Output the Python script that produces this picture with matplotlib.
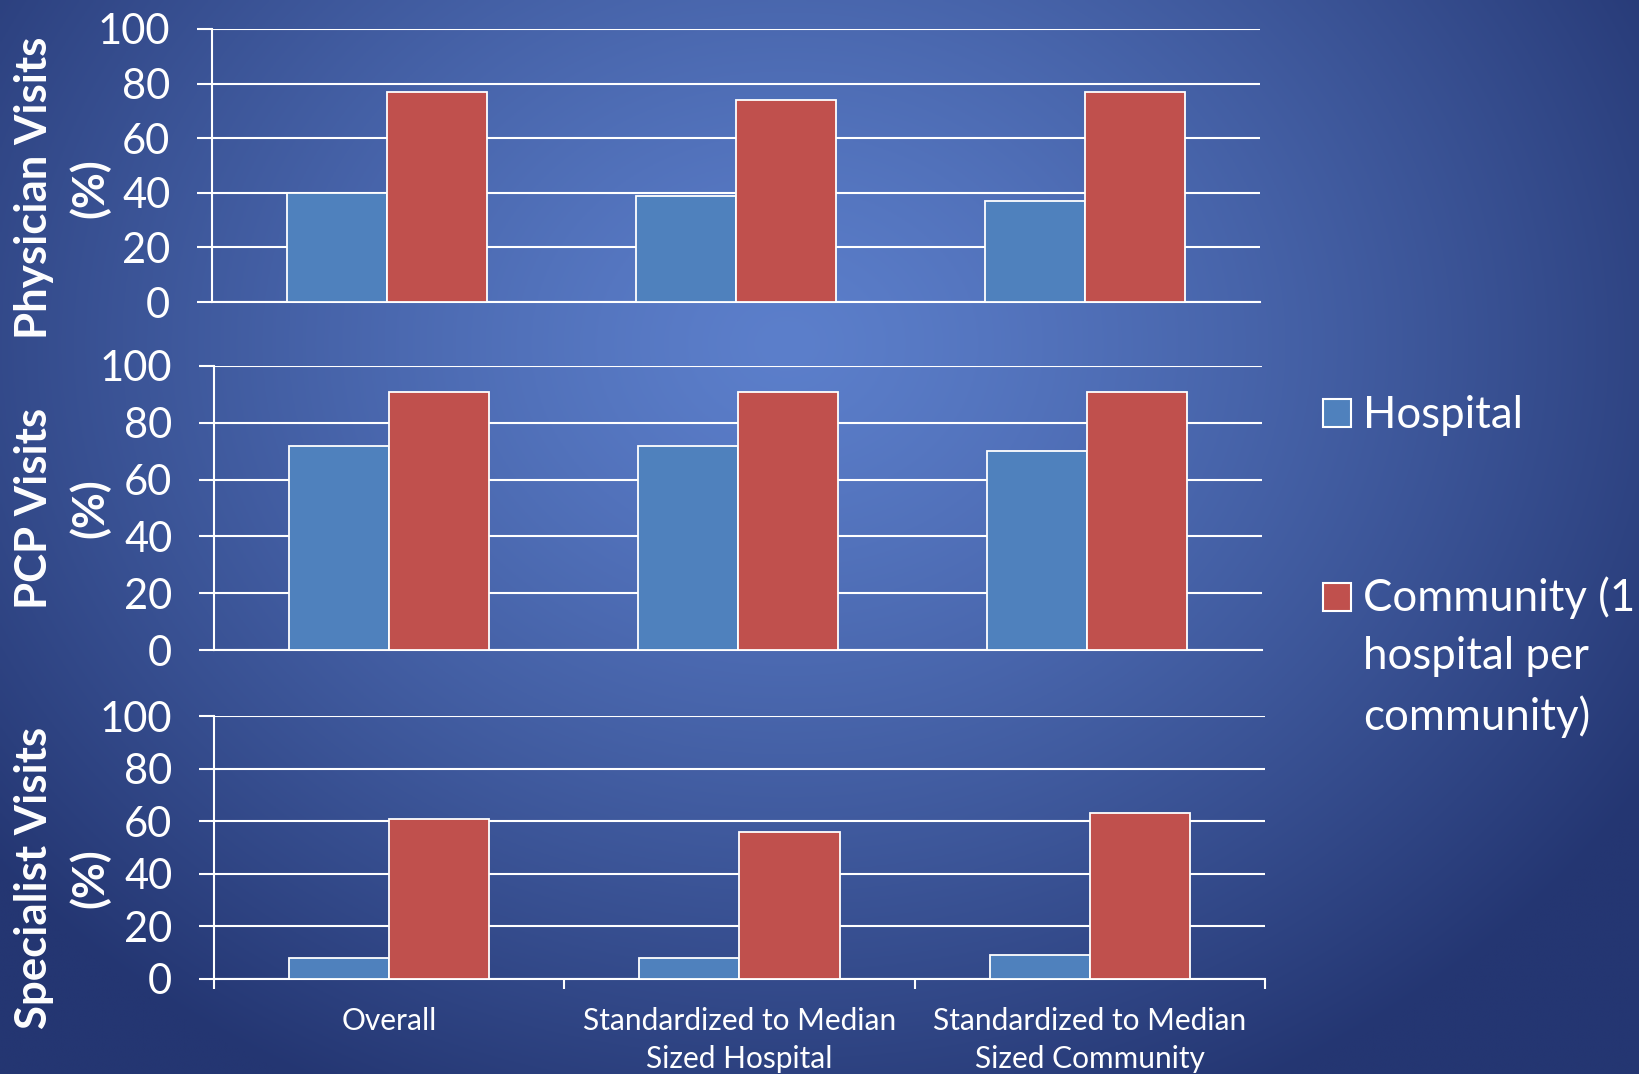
import numpy as np
import matplotlib
matplotlib.use("Agg")
import matplotlib.pyplot as plt
from matplotlib.patches import Rectangle

# ---- data ----
categories = ["Overall", "Standardized to Median\nSized Hospital",
              "Standardized to Median\nSized Community"]
series_names = ["Hospital", "Community (1\nhospital per\ncommunity)"]
panel_labels = ["Physician Visits\n(%)", "PCP Visits\n(%)", "Specialist Visits\n(%)"]

physician_hospital = [40, 39, 37]
physician_community = [77, 74, 77]
pcp_hospital = [72, 72, 70]
pcp_community = [91, 91, 91]
specialist_hospital = [8, 8, 9]
specialist_community = [61, 56, 63]

y_ticks = [0, 20, 40, 60, 80, 100]

panels = [
    (physician_hospital, physician_community),
    (pcp_hospital, pcp_community),
    (specialist_hospital, specialist_community),
]

hospital_color = "#4f81bd"
community_color = "#c0504d"

plt.rcParams["font.family"] = ["Lato", "DejaVu Sans"]

W, H = 1640, 1074
fig = plt.figure(figsize=(W / 100, H / 100), dpi=100)

# ---- radial blue background ----
bg = fig.add_axes([0, 0, 1, 1], zorder=-10)
yy, xx = np.mgrid[0:1:400j, 0:1:600j]
d = np.sqrt(((xx - 0.48) / 0.62) ** 2 + ((yy - 0.32) / 0.78) ** 2)
t = np.clip(d, 0, 1) ** 1.25
c_in = np.array([0x5c, 0x7f, 0xcb]) / 255
c_out = np.array([0x24, 0x36, 0x72]) / 255
img = c_in[None, None, :] * (1 - t[..., None]) + c_out[None, None, :] * t[..., None]
bg.imshow(img, extent=[0, 1, 0, 1], aspect="auto", origin="upper")
bg.set_axis_off()

# axes rectangles in pixel coordinates: left, top, right, bottom
rects = [(212, 29, 1260, 302), (214, 366, 1262, 650), (214, 716, 1265, 979)]
label_y = [188, 508, 878]

x = np.arange(len(categories))
bw = 0.286

for i, ((hosp, comm), (l, tp, r, b)) in enumerate(zip(panels, rects)):
    ax = fig.add_axes([l / W, 1 - b / H, (r - l) / W, (b - tp) / H])
    ax.patch.set_alpha(0)
    ax.bar(x - bw / 2, hosp, bw, color=hospital_color, edgecolor="white",
           linewidth=1.3, zorder=3)
    ax.bar(x + bw / 2, comm, bw, color=community_color, edgecolor="white",
           linewidth=1.3, zorder=3)
    ax.set_xlim(-0.5, len(categories) - 0.5)
    ax.set_ylim(0, 100)
    ax.set_yticks(y_ticks)
    ax.yaxis.grid(True, color="white", linewidth=1.5, zorder=0)
    ax.set_axisbelow(True)
    for s in ["top", "right"]:
        ax.spines[s].set_visible(False)
    for s in ["left", "bottom"]:
        ax.spines[s].set_color("white")
        ax.spines[s].set_linewidth(1.5)
    ax.tick_params(axis="y", colors="white", labelsize=30, length=11,
                   width=1.5, pad=19, direction="out")
    if i < 2:
        ax.set_xticks([])
    else:
        ax.set_xticks(x)
        ax.set_xticklabels(categories, fontsize=21.5, color="white",
                           linespacing=1.43)
        ax.set_xticks(np.arange(len(categories) + 1) - 0.5, minor=True)
        ax.tick_params(axis="x", which="major", length=0, pad=20)
        ax.tick_params(axis="x", which="minor", length=7, width=1.5,
                       colors="white", direction="out")
    fig.text(62 / W, 1 - label_y[i] / H, panel_labels[i], rotation=90,
             ha="center", va="center", multialignment="center",
             fontsize=31.5, fontweight="bold", color="white", linespacing=1.43)

# ---- legend ----
sq = 28
for name, color, cy in [(series_names[0], hospital_color, 413),
                        (series_names[1], community_color, 597)]:
    fig.patches.append(Rectangle((1323 / W, 1 - (cy + sq / 2) / H),
                                 sq / W, sq / H, transform=fig.transFigure,
                                 facecolor=color, edgecolor="white",
                                 linewidth=1.5))
legend_text_y = [416, 657]
for name, cy in zip(series_names, legend_text_y):
    fig.text(1363 / W, 1 - cy / H, name, ha="left", va="center",
             fontsize=31.5, color="white", linespacing=1.53)

fig.savefig("out.png", dpi=100)
